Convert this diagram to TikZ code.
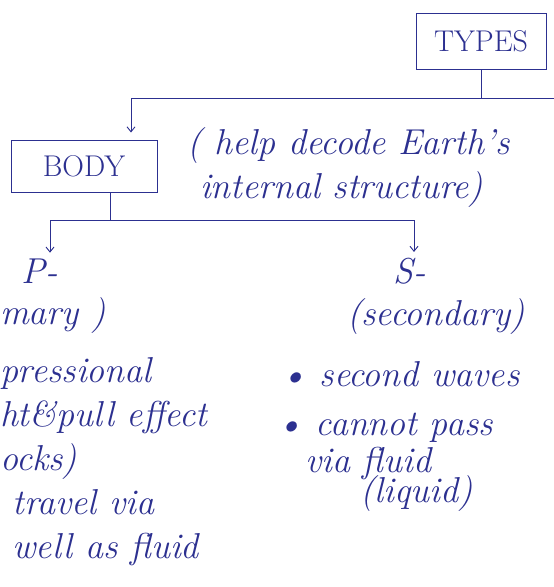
\documentclass[tikz,border=0pt]{standalone}
\usepackage{fontspec}
\usetikzlibrary{positioning, arrows.meta}
\definecolor{inkblue}{HTML}{2C3090}
\tikzset{
    headbox/.style={draw, line width=1pt, minimum width=130pt, minimum height=56pt, font=\fontsize{30}{34}\selectfont},
    jot/.style={inner sep=0pt, outer sep=0pt, font=\itshape\fontsize{36}{44}\selectfont},
    jotlines/.style={jot, align=left}
}
\begin{document}
\begin{tikzpicture}[x=1pt, y=-1pt, node distance=12pt, >={Straight Barb[length=5pt, width=8pt]}, draw=inkblue, text=inkblue, line width=0.9pt]
  \useasboundingbox (0,0) rectangle (554,587);
  % top of the tree
  \node(types)[headbox] at (481,41){TYPES};
  \node(body)[headbox, minimum width=146pt, minimum height=52pt] at (84,166){BODY};
  \node(note)[jotlines, right=30pt of body, yshift=-2pt]{( help decode Earth's\\ \ internal structure)};
  \coordinate(edge) at (554,98);
  \draw(types.south)--(types.south |- edge);
  \draw[->, shorten >=7pt](edge)-|([xshift=47pt]body.north);
  % two wave kinds
  \node(pwave)[jot] at (40,271){P-};
  \node(swave)[jot] at (410,271){S-};
  \draw([xshift=26pt]body.south)--++(0,28) coordinate(split);
  \draw[->, shorten >=6pt](split)-|([xshift=10pt]pwave.north);
  \draw[->, shorten >=6pt](split)-|([xshift=4pt]swave.north);
  % primary
  \node(prim)[jot, anchor=west] at (0,316){mary )};
  \node(pnotes)[jotlines, anchor=north west] at (0,358){pressional\\ht\&pull effect\\ocks)\\\ travel via\\\ well as fluid};
  % secondary
  \node(sec)[jot] at (436,317){(secondary)};
  \node(snote1)[jot, anchor=west] at (280,374){\textbullet\ second waves};
  \node(snote2)[jot, anchor=west] at (276,428){\textbullet\ cannot pass};
  \node(snote3)[jot, anchor=west] at (305,463){via fluid};
  \node(snote4)[jot, anchor=west] at (360,494){(liquid)};
\end{tikzpicture}
\end{document}
